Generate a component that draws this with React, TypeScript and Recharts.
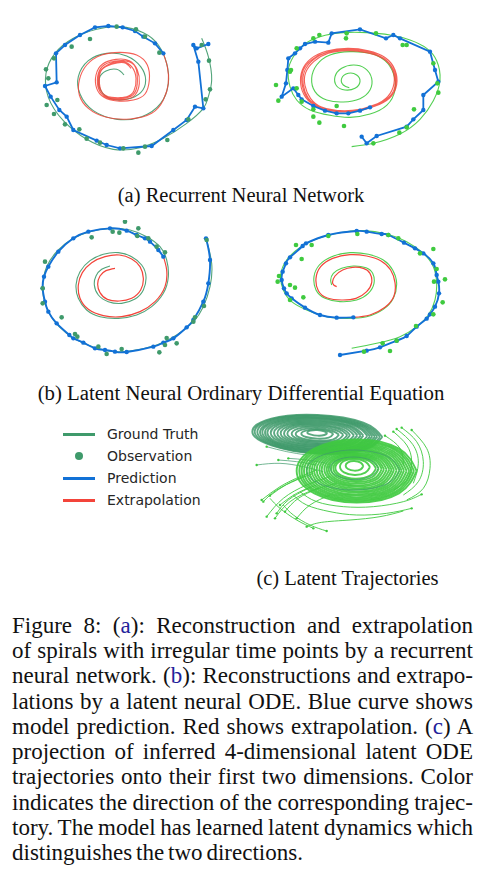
import { ComposedChart, Line, Scatter, XAxis, YAxis } from 'recharts';

const DARK_GREEN = '#3f9a6b';
const LIGHT_GREEN = '#3fca3f';
const BLUE = '#1271d6';
const RED = '#f3443a';
const LINK = '#22229a';

// every panel is measured in its own picture units (x right, y down)

// (a) RNN, left spiral
const aLeftTruth = [515,55, 535,110, 545,180, 535,230, 520,265, 470,310, 400,355, 330,383, 250,388, 170,358, 100,302, 55,232, 48,160, 75,100, 130,55, 200,28, 270,20, 340,38, 385,75, 410,130, 415,190, 392,250, 335,290, 262,298, 190,272, 150,222, 145,170, 175,122, 230,100, 290,108, 332,140, 347,180, 332,218, 290,238, 245,237, 213,212, 208,175, 228,153, 260,148, 282,165];
const aLeftPred = [535,72, 500,85, 490,75, 505,125, 520,265, 495,260, 470,300, 430,330, 365,378, 270,385, 230,375, 200,362, 130,330, 110,290, 88,270, 62,230, 45,198, 80,187, 78,100, 105,75, 150,45, 195,22, 235,18, 278,22, 315,33, 340,50, 375,70, 400,100];
const aLeftExtra = [400,100, 412,140, 415,190, 400,240, 365,280, 300,297, 230,292, 175,265, 148,225, 148,180, 170,135, 215,105, 270,97, 320,105, 352,135, 358,180, 345,222, 310,240, 262,243, 222,232, 200,205, 198,165, 218,132, 258,118, 298,122, 322,150, 328,190, 315,225, 285,238, 240,236, 210,215, 202,180, 212,145, 240,127, 280,122, 312,135, 322,170, 318,210, 295,232, 250,235, 215,222, 205,190, 210,155, 238,132, 275,125, 305,140, 318,175, 312,212, 290,230, 245,232, 215,215, 208,180, 215,150, 245,133, 282,128, 303,145];
const aLeftObs = [515,75, 537,122, 540,208, 527,238, 475,298, 412,360, 345,380, 325,398, 280,385, 210,368, 170,356, 148,328, 105,313, 72,282, 50,255, 82,240, 48,148, 55,175, 72,115, 125,80, 180,57, 260,20, 318,28, 345,50, 388,98];

// (a) RNN, right spiral
const aRightTruth = [275,380, 340,370, 420,342, 480,298, 520,242, 540,180, 530,122, 500,85, 450,60, 390,45, 320,38, 250,38, 180,50, 130,75, 100,110, 85,150, 90,200, 110,240, 150,270, 210,286, 270,292, 330,282, 380,256, 405,210, 400,160, 375,122, 330,100, 270,95, 210,105, 170,135, 155,175, 165,215, 200,240, 250,246, 300,236, 330,210, 335,175, 315,145, 280,135, 245,145, 225,170, 230,198, 255,210, 285,205, 300,185, 290,165, 265,160, 245,175, 250,195, 268,203];
const aRightPred = [305,350, 320,370, 350,348, 440,320, 460,298, 490,270, 490,225, 535,185, 525,150, 510,95, 420,55, 400,45, 378,55, 300,28, 215,40, 205,68, 165,65, 135,72, 120,85, 105,100, 85,115, 82,150, 78,190, 65,230, 100,205, 115,225, 125,238, 160,258, 195,272, 230,280, 265,280, 300,272, 330,262];
const aRightExtra = [330,262, 380,240, 405,198, 400,150, 372,115, 322,95, 262,88, 202,96, 157,118, 130,150, 126,190, 140,230, 176,258, 232,272, 292,270, 342,256, 386,232, 408,192, 403,148, 375,112, 325,92, 264,85, 200,93, 153,116, 127,150, 122,192, 137,232, 174,261, 230,275, 292,273, 344,259, 388,235, 410,195, 405,150, 377,114, 326,94, 264,88, 203,97, 158,121, 133,155, 130,195, 145,234, 180,262, 236,274, 296,270, 345,255, 383,230, 402,190, 397,148, 370,116, 320,98, 262,92, 205,100, 162,124, 137,158, 135,197, 152,236, 186,262, 240,272, 300,268, 350,252];
const aRightObs = [160,55, 178,45, 260,40, 258,55, 348,40, 440,75, 428,75, 520,130, 532,190, 535,218, 462,268, 440,322, 418,338, 340,370, 252,318, 178,308, 160,290, 160,268, 125,245, 55,242, 48,195, 110,205, 90,155, 93,150, 110,85, 230,258];

// (b) latent ODE, left spiral
const bLeftTruth = [528,55, 545,130, 540,200, 520,260, 490,305, 440,345, 380,375, 300,393, 230,392, 160,370, 110,340, 70,300, 45,250, 38,200, 50,140, 85,90, 130,55, 180,35, 240,25, 300,30, 350,50, 390,80, 410,120, 415,170, 400,220, 365,260, 320,285, 265,295, 210,290, 170,270, 145,235, 138,195, 150,155, 180,122, 220,103, 265,98, 305,110, 335,135, 348,170, 340,210, 315,237, 275,250, 235,245, 205,225, 193,195, 198,168, 215,148, 240,138];
const bLeftPred = [528,55, 540,120, 535,190, 520,245, 490,300, 470,322, 430,355, 400,368, 370,380, 290,396, 255,395, 225,390, 195,385, 160,368, 130,355, 118,345, 80,310, 55,275, 45,245, 38,205, 42,170, 55,140, 85,95, 130,55, 175,35, 240,25, 290,32, 320,45, 345,55, 360,65, 385,90, 400,110];
const bLeftExtra = [400,110, 410,150, 405,200, 375,245, 330,275, 275,290, 220,287, 175,268, 150,235, 145,195, 157,158, 185,128, 225,110, 268,105, 305,117, 330,140, 340,175, 332,210, 305,235, 268,243, 232,238, 210,218, 203,192, 210,168, 228,152, 255,145];
const bLeftObs = [285,5, 325,25, 248,35, 268,38, 185,52, 322,48, 355,55, 380,80, 405,97, 45,125, 38,205, 38,250, 95,292, 135,342, 142,350, 205,380, 230,402, 275,387, 388,397, 410,354, 440,370, 405,375, 495,292, 522,258, 490,305, 530,60];

// (b) latent ODE, right spiral
const bRightTruth = [275,385, 350,370, 420,350, 470,320, 505,285, 525,240, 530,190, 520,140, 490,100, 440,65, 380,42, 310,32, 240,38, 175,55, 120,82, 80,120, 62,165, 70,210, 95,245, 140,270, 200,290, 260,295, 320,290, 370,268, 400,235, 410,190, 398,150, 370,120, 325,103, 270,98, 215,110, 178,135, 162,170, 168,210, 195,235, 240,245, 290,240, 325,220, 342,190, 338,160, 318,143, 280,138, 245,145, 220,160, 212,180, 215,195];
const bRightPred = [240,405, 320,392, 360,382, 410,362, 440,348, 470,320, 500,296, 510,283, 525,260, 537,220, 535,185, 530,165, 520,130, 490,100, 465,85, 432,68, 385,45, 365,42, 320,35, 290,33, 205,45, 138,70, 128,78, 90,112, 78,130, 68,155, 65,180, 72,205, 80,220, 95,235, 135,263, 180,285, 230,293, 280,292];
const bRightExtra = [280,292, 330,285, 375,262, 402,228, 405,188, 392,150, 362,122, 320,108, 270,104, 218,115, 182,140, 168,175, 175,212, 202,234, 245,240, 288,235, 320,215, 335,188, 330,160, 310,145, 278,142, 248,150, 225,168, 218,190, 230,200];
const bRightObs = [108,75, 155,75, 125,117, 205,48, 292,42, 385,45, 415,55, 480,100, 520,87, 530,147, 522,185, 555,178, 548,247, 520,283, 468,318, 410,362, 368,370, 312,395, 390,393, 57,168, 53,185, 90,195, 105,203, 130,232, 90,240];

// (c) latent trajectories: one direction (dark) and the other (light)
const darkLoops = [
  [457,96, 400,135, 262,146, 124,121, 67,80, 124,41, 262,30, 400,53, 457,96],
  [450,96, 395,134, 262,144, 130,121, 74,80, 130,42, 262,32, 395,55, 450,96],
  [442,95, 389,132, 262,142, 135,120, 82,81, 135,44, 262,34, 389,56, 442,95],
  [435,95, 384,130, 262,139, 140,119, 90,82, 140,46, 262,37, 384,57, 435,95],
  [427,94, 379,128, 262,137, 145,118, 97,82, 145,48, 262,39, 379,58, 427,94],
  [420,94, 373,126, 262,134, 150,117, 105,83, 150,50, 262,41, 373,59, 420,94],
  [412,93, 368,124, 262,132, 156,116, 112,83, 156,52, 262,44, 368,60, 412,93],
  [400,92, 360,121, 262,129, 163,114, 122,84, 163,54, 262,47, 360,62, 400,92],
  [392,92, 354,119, 262,126, 170,113, 132,84, 170,57, 262,50, 354,63, 392,92],
  [382,91, 347,117, 262,123, 177,111, 142,85, 177,59, 262,53, 347,65, 382,91],
  [372,91, 340,115, 262,120, 184,109, 152,85, 184,61, 262,56, 340,67, 372,91],
  [360,90, 333,112, 262,117, 191,106, 162,86, 191,63, 262,59, 333,70, 360,90],
  [352,90, 326,110, 262,114, 198,104, 172,86, 198,66, 262,62, 326,72, 352,90],
  [340,89, 317,107, 262,110, 207,102, 185,86, 207,70, 262,65, 317,75, 340,89],
  [327,89, 308,104, 262,107, 216,100, 197,87, 216,74, 262,69, 308,78, 327,89],
  [310,86, 296,98, 262,101, 228,96, 214,86, 228,77, 262,73, 296,79, 310,86],
  [292,84, 283,90, 262,92, 241,88, 232,83, 241,77, 262,75, 283,79, 292,84],
];
const lightLoops = [
  [560,198, 507,265, 380,293, 253,265, 200,198, 253,131, 380,103, 507,131, 560,198],
  [552,198, 502,262, 380,289, 258,262, 208,198, 258,134, 380,107, 502,134, 552,198],
  [545,198, 497,260, 380,285, 263,260, 215,198, 263,136, 380,111, 497,136, 545,198],
  [538,198, 491,257, 380,281, 269,257, 222,198, 269,139, 380,115, 491,139, 538,198],
  [530,198, 486,254, 380,277, 274,254, 230,198, 274,142, 380,119, 486,142, 530,198],
  [522,197, 481,251, 380,272, 279,250, 238,197, 279,144, 380,122, 481,145, 522,197],
  [515,197, 475,248, 380,268, 285,247, 245,196, 285,146, 380,126, 475,147, 515,197],
  [508,196, 470,245, 380,263, 290,243, 252,195, 290,148, 380,130, 470,150, 508,196],
  [500,196, 465,242, 380,259, 295,240, 260,195, 295,150, 380,133, 465,152, 500,196],
  [492,195, 459,238, 380,254, 301,237, 268,194, 301,152, 380,137, 459,154, 492,195],
  [485,195, 454,235, 380,250, 306,234, 275,194, 306,155, 380,140, 454,156, 485,195],
  [478,194, 449,231, 380,245, 311,230, 283,193, 311,157, 380,144, 449,158, 478,194],
  [470,194, 444,228, 380,241, 316,227, 290,193, 316,159, 380,147, 444,161, 470,194],
  [462,193, 438,224, 379,236, 320,223, 296,192, 320,161, 379,150, 438,163, 462,193],
  [455,192, 433,220, 378,231, 325,219, 303,191, 325,163, 378,153, 433,165, 455,192],
  [446,191, 427,216, 377,226, 329,215, 310,190, 329,165, 377,156, 427,167, 446,191],
  [438,190, 420,212, 376,221, 333,211, 316,189, 333,167, 376,159, 420,169, 438,190],
  [420,186, 406,203, 374,210, 342,202, 330,185, 342,168, 374,162, 406,170, 420,186],
  [400,183, 392,193, 373,197, 354,192, 347,182, 354,172, 373,168, 392,173, 400,183],
];
const tealRings = [
  [510,195, 469,237, 370,255, 271,237, 230,195, 271,153, 370,135, 469,153, 510,195],
  [445,190, 422,214, 372,224, 322,213, 300,189, 322,165, 372,156, 422,166, 445,190],
];
const lightTails = [
  [95,285, 150,245, 210,215, 260,195],
  [110,335, 160,280, 230,240, 300,215],
  [135,340, 180,290, 250,255, 320,235],
  [150,300, 200,265, 260,240],
  [120,272, 170,238, 225,212],
  [100,290, 140,255, 200,225, 250,205],
  [140,325, 175,285, 235,250],
  [165,320, 205,280, 265,250],
  [200,340, 240,300, 300,270],
  [545,310, 470,325, 380,330, 300,320, 230,300, 190,270],
  [575,268, 520,290, 430,305, 340,305, 260,290, 210,260],
  [290,378, 240,360, 190,330, 160,300],
  [250,370, 200,345, 150,310, 120,280],
  [230,365, 275,352, 360,345, 450,335, 520,318],
  [515,68, 560,110, 580,170, 565,230, 520,270],
  [545,75, 590,130, 600,190, 580,250, 530,285],
  [490,80, 530,120, 545,170, 530,225, 490,255],
  [465,92, 510,130, 520,180],
  [500,72, 548,118, 565,175, 550,235],
];
const darkTails = [
  [80,180, 150,175, 220,185, 280,200],
  [145,165, 200,170, 260,180],
  [175,160, 230,165, 290,175],
  [110,125, 170,140, 230,150],
];

const legendItems = ['Ground Truth', 'Observation', 'Prediction', 'Extrapolation'];

const captionLines = [
  ['Figure 8: (', 'a', '): Reconstruction and extrapolation'],
  ['of spirals with irregular time points by a recurrent'],
  ['neural network. (', 'b', '): Reconstructions and extrapo-'],
  ['lations by a latent neural ODE. Blue curve shows'],
  ['model prediction. Red shows extrapolation. (', 'c', ') A'],
  ['projection of inferred 4-dimensional latent ODE'],
  ['trajectories onto their first two dimensions. Color'],
  ['indicates the direction of the corresponding trajec-'],
  ['tory. The model has learned latent dynamics which'],
  ['distinguishes the two directions.'],
];

const pts = (a: number[]) => {
  const out: { x: number; y: number }[] = [];
  for (let i = 0; i < a.length; i += 2) out.push({ x: a[i], y: a[i + 1] });
  return out;
};

type Curve = { data: number[]; color: string; width: number; type?: any; dot?: number; opacity?: number };

const Panel = ({ left, top, w, h, xMax, yMax, curves, obs, obsColor, obsR = 2.3 }: any) => (
  <div style={{ position: 'absolute', left, top, width: w, height: h }}>
    <ComposedChart width={w} height={h} margin={{ top: 0, right: 0, bottom: 0, left: 0 }}>
      <XAxis type="number" dataKey="x" domain={[0, xMax]} hide allowDataOverflow />
      <YAxis type="number" dataKey="y" domain={[0, yMax]} reversed hide allowDataOverflow />
      {curves.map((c: Curve, i: number) => (
        <Line
          key={i}
          data={pts(c.data)}
          dataKey="y"
          type={c.type ?? 'natural'}
          stroke={c.color}
          strokeWidth={c.width}
          strokeOpacity={c.opacity ?? 1}
          dot={c.dot ? { r: c.dot, fill: c.color, stroke: 'none' } : false}
          activeDot={false}
          isAnimationActive={false}
        />
      ))}
      {obs && (
        <Scatter
          data={pts(obs)}
          isAnimationActive={false}
          shape={(p: any) => <circle cx={p.cx} cy={p.cy} r={obsR} fill={obsColor} />}
        />
      )}
    </ComposedChart>
  </div>
);

const serifFont = '"Liberation Serif", "Times New Roman", serif';
const serif = { fontFamily: serifFont, fontSize: 20.5, color: '#111' };

export default function App() {
  return (
    <div style={{ position: 'absolute', left: 0, top: 0, width: 492, height: 874, background: '#fff', overflow: 'hidden' }}>
      <Panel left={30} top={20} w={200} h={140} xMax={600} yMax={420} obs={aLeftObs} obsColor={DARK_GREEN}
        curves={[
          { data: aLeftTruth, color: DARK_GREEN, width: 1.1, opacity: 0.9 },
          { data: aLeftExtra, color: RED, width: 1.1, opacity: 0.85 },
          { data: aLeftPred, color: BLUE, width: 1.8, type: 'linear', dot: 2.2 },
        ]} />
      <Panel left={260} top={20} w={200} h={140} xMax={600} yMax={420} obs={aRightObs} obsColor={LIGHT_GREEN}
        curves={[
          { data: aRightTruth, color: LIGHT_GREEN, width: 1.1, opacity: 0.9 },
          { data: aRightExtra, color: RED, width: 1.1, opacity: 0.85 },
          { data: aRightPred, color: BLUE, width: 1.8, type: 'linear', dot: 2.2 },
        ]} />
      <Panel left={30} top={220} w={200} h={150} xMax={600} yMax={450} obs={bLeftObs} obsColor={DARK_GREEN}
        curves={[
          { data: bLeftTruth, color: DARK_GREEN, width: 1.1, opacity: 0.9 },
          { data: bLeftExtra, color: RED, width: 1.2 },
          { data: bLeftPred, color: BLUE, width: 1.9, dot: 2.2 },
        ]} />
      <Panel left={260} top={220} w={200} h={150} xMax={600} yMax={450} obs={bRightObs} obsColor={LIGHT_GREEN}
        curves={[
          { data: bRightTruth, color: LIGHT_GREEN, width: 1.1, opacity: 0.9 },
          { data: bRightExtra, color: RED, width: 1.2 },
          { data: bRightPred, color: BLUE, width: 1.9, dot: 2.2 },
        ]} />

      <div style={{ ...serif, position: 'absolute', left: 0, width: 482, top: 182, lineHeight: '26px', textAlign: 'center' }}>
        (a) Recurrent Neural Network
      </div>
      <div style={{ ...serif, fontSize: 20.8, position: 'absolute', left: 0, width: 482, top: 380, lineHeight: '26px', textAlign: 'center' }}>
        (b) Latent Neural Ordinary Differential Equation
      </div>

      {legendItems.map((name, i) => (
        <div key={name} style={{ position: 'absolute', left: 62, top: 426 + i * 22, height: 16, width: 160 }}>
          {i === 1 ? (
            <div style={{ position: 'absolute', left: 13, top: 4, width: 8, height: 8, borderRadius: 4, background: DARK_GREEN }} />
          ) : (
            <div style={{ position: 'absolute', left: 1, top: 6.5, width: 32, height: 3, background: [DARK_GREEN, '', BLUE, RED][i] }} />
          )}
          <div style={{ position: 'absolute', left: 45, top: 0, lineHeight: '16px', fontFamily: '"DejaVu Sans", sans-serif', fontSize: 14, color: '#262626', whiteSpace: 'nowrap' }}>
            {name}
          </div>
        </div>
      ))}

      <Panel left={230} top={405} w={220} h={130} xMax={660} yMax={390}
        curves={[
          ...darkLoops.map((d) => ({ data: d, color: DARK_GREEN, width: 1.9, opacity: 0.85 })),
          ...darkTails.map((d) => ({ data: d, color: DARK_GREEN, width: 0.9, opacity: 0.8 })),
          ...lightTails.map((d) => ({ data: d, color: LIGHT_GREEN, width: 0.9 })),
          ...lightLoops.map((d) => ({ data: d, color: LIGHT_GREEN, width: 1.9, opacity: 0.9 })),
          ...tealRings.map((d) => ({ data: d, color: DARK_GREEN, width: 0.9, opacity: 0.8 })),
        ]}
        obs={[...lightTails, ...darkTails].flatMap((t) => t.slice(0, 2))} obsColor={LIGHT_GREEN} obsR={1.2} />

      <div style={{ ...serif, position: 'absolute', left: 230, width: 235, top: 565, lineHeight: '26px', textAlign: 'center' }}>
        (c) Latent Trajectories
      </div>

      {captionLines.map((parts, i) => (
        <div key={i} style={{
          fontFamily: serifFont, fontSize: 23, color: '#111', wordSpacing: '-0.08em',
          position: 'absolute', left: 12, width: 461, top: 612.9 + i * 25.25, lineHeight: '25.25px',
          textAlign: 'justify', textAlignLast: i === captionLines.length - 1 ? 'left' : 'justify',
        }}>
          {parts.map((p, j) => (j === 1 ? <span key={j} style={{ color: LINK }}>{p}</span> : <span key={j}>{p}</span>))}
        </div>
      ))}
    </div>
  );
}
